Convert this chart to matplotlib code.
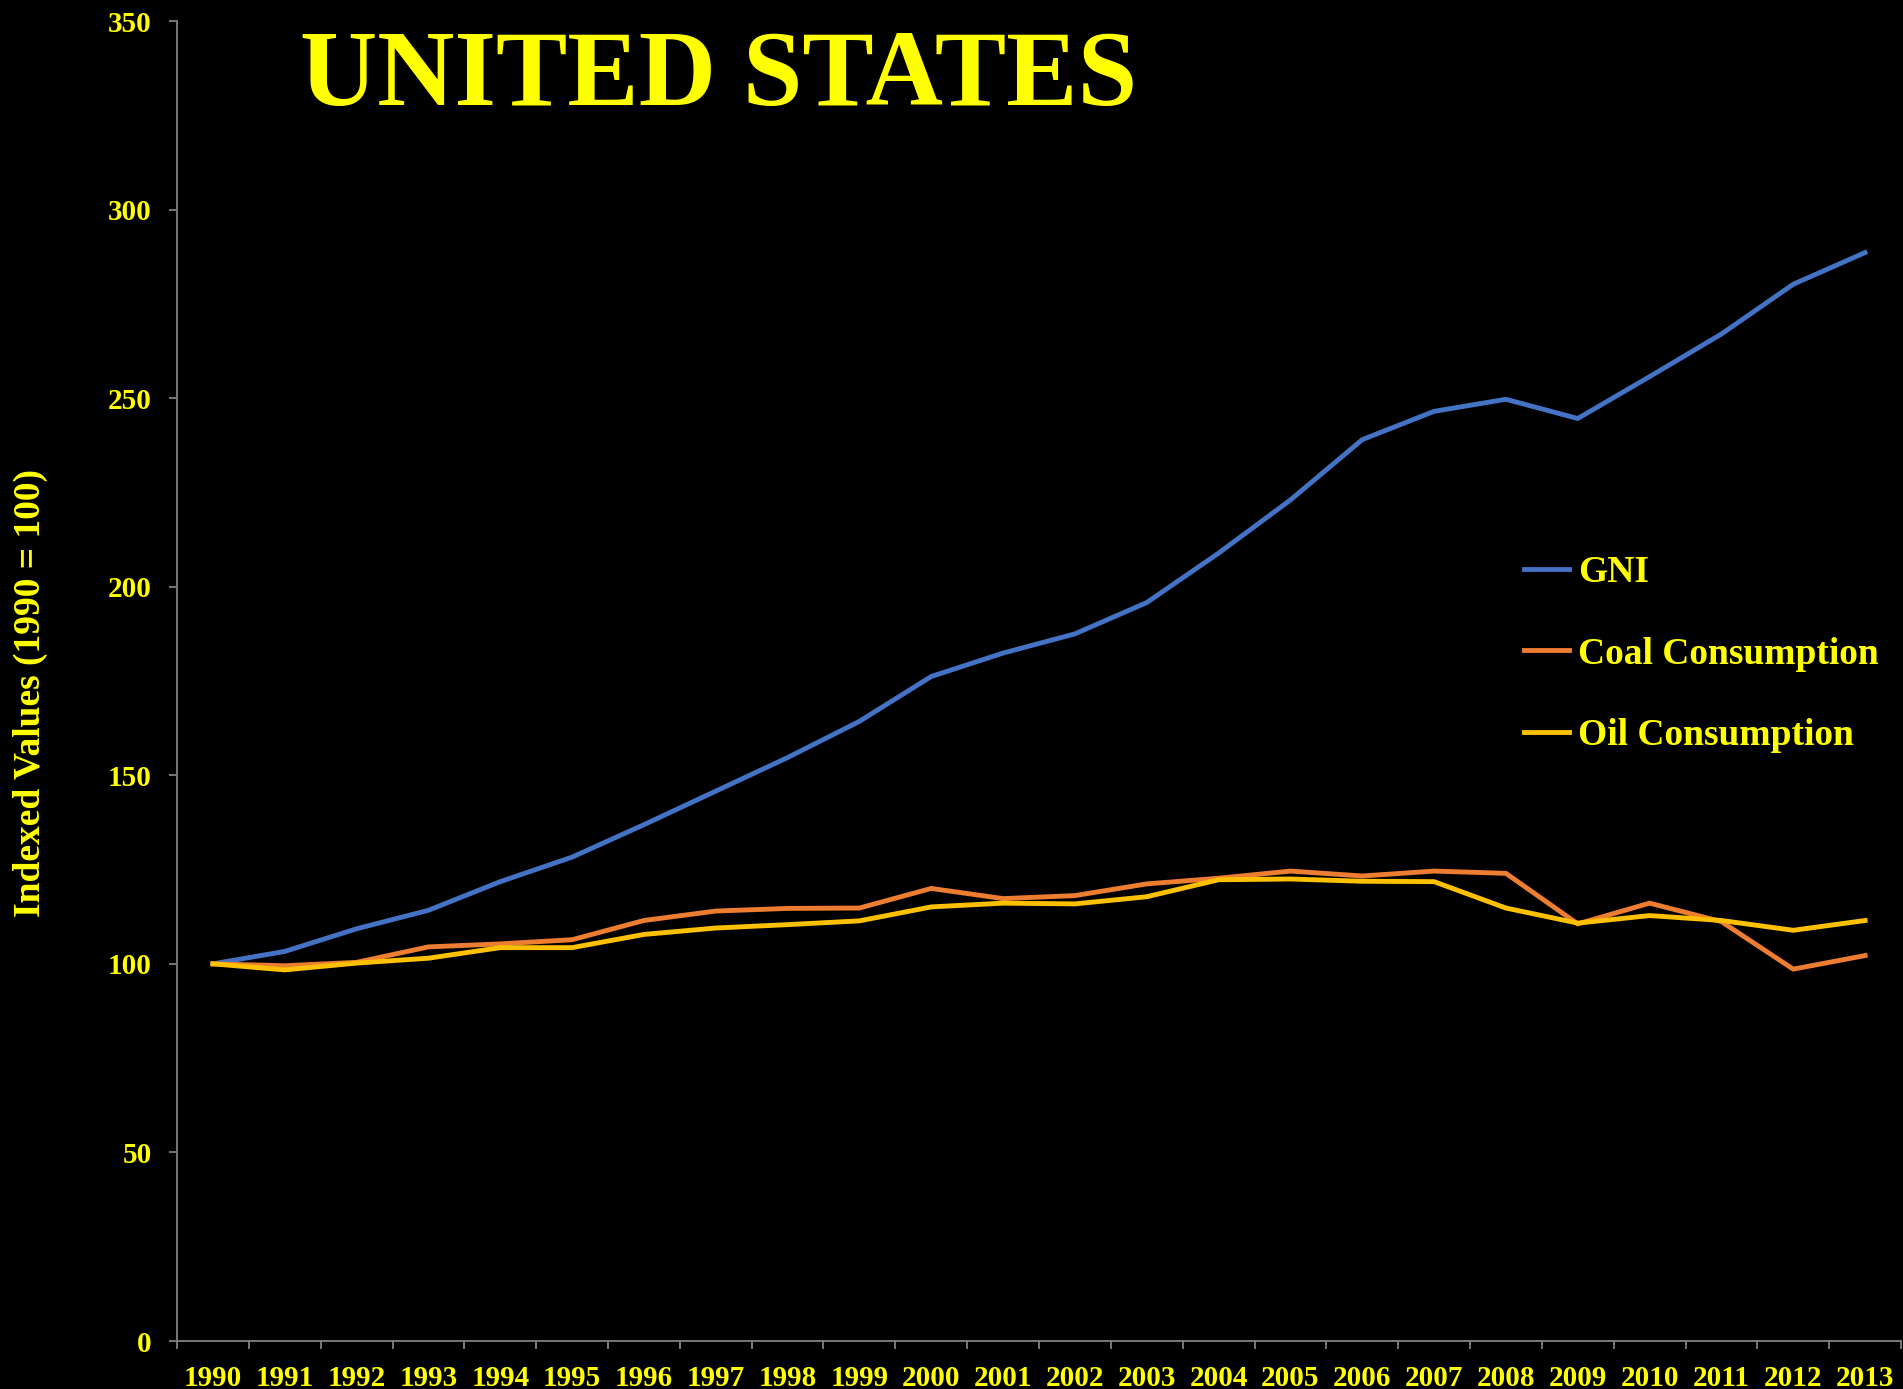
import matplotlib
matplotlib.use("Agg")
import matplotlib.pyplot as plt
import numpy as np

years = [str(y) for y in range(1990, 2014)]
gni = [100, 103.3, 109.3, 114.2, 121.8, 128.3, 136.9, 145.8, 154.7, 164.3,
       176.2, 182.4, 187.5, 195.8, 208.9, 223.0, 239.0, 246.5, 249.7, 244.6,
       255.7, 267.0, 280.2, 288.6]
coal = [100, 99.5, 100.4, 104.5, 105.3, 106.4, 111.5, 114.0, 114.7, 114.8,
        120.0, 117.3, 118.1, 121.2, 122.7, 124.6, 123.3, 124.6, 124.0, 110.6,
        116.1, 111.2, 98.6, 102.2]
oil = [100, 98.4, 100.2, 101.5, 104.3, 104.3, 107.8, 109.5, 110.4, 111.4,
       115.1, 116.1, 115.9, 117.8, 122.3, 122.5, 121.9, 121.8, 114.8, 110.8,
       112.8, 111.5, 108.9, 111.5]
series_names = ["GNI", "Coal Consumption", "Oil Consumption"]
series_colors = ["#4472C4", "#ED7D31", "#FFC000"]
title = "UNITED STATES"
ylabel = "Indexed Values (1990 = 100)"
yticks = [0, 50, 100, 150, 200, 250, 300, 350]

plt.rcParams['font.family'] = ['Liberation Serif', 'DejaVu Serif']
plt.rcParams['font.weight'] = 'bold'

W, H = 1903, 1389
fig = plt.figure(figsize=(W / 100, H / 100), dpi=100, facecolor='black')
ax = fig.add_axes([177 / W, 1 - 1341 / H, (1901 - 177) / W, (1341 - 21) / H])
ax.set_facecolor('black')

x = np.arange(len(years))
for vals, name, col in zip([gni, coal, oil], series_names, series_colors):
    ax.plot(x, vals, color=col, lw=3.5, label=name, solid_joinstyle='miter')

ax.set_xlim(-0.5, len(years) - 0.5)
ax.set_ylim(0, 350)
ax.set_yticks(yticks)
ax.set_yticklabels([str(v) for v in yticks])
ax.set_xticks(x)
ax.set_xticklabels(years)
ax.set_xticks(np.arange(-0.5, len(years)), minor=True)

for s in ['top', 'right']:
    ax.spines[s].set_visible(False)
for s in ['left', 'bottom']:
    ax.spines[s].set_color('#808080')
    ax.spines[s].set_linewidth(1.3)

ax.tick_params(axis='y', colors='#808080', length=6, width=1.3, pad=12,
               labelcolor='#FFFF00', labelsize=21)
ax.tick_params(axis='x', which='major', length=0, pad=17,
               labelcolor='#FFFF00', labelsize=21)
ax.tick_params(axis='x', which='minor', colors='#808080', length=6, width=1.3)
for lab in ax.get_xticklabels() + ax.get_yticklabels():
    lab.set_fontweight('bold')

fig.text(30 / W, 1 - 693 / H, ylabel, rotation=90, ha='center', va='center',
         color='#FFFF00', fontsize=27, fontweight='bold')
fig.text(719 / W, 1 - 79 / H, title, ha='center', va='center',
         color='#FFFF00', fontsize=77, fontweight='bold')

leg = ax.legend(loc='center left', bbox_to_anchor=(1524 / W, 1 - 654 / H),
                bbox_transform=fig.transFigure, frameon=False,
                fontsize=27, handlelength=1.2, handletextpad=0.25,
                labelspacing=1.25, borderaxespad=0, borderpad=0)
for t in leg.get_texts():
    t.set_color('#FFFF00')
    t.set_fontweight('bold')

fig.savefig('out.png', dpi=100, facecolor='black')
